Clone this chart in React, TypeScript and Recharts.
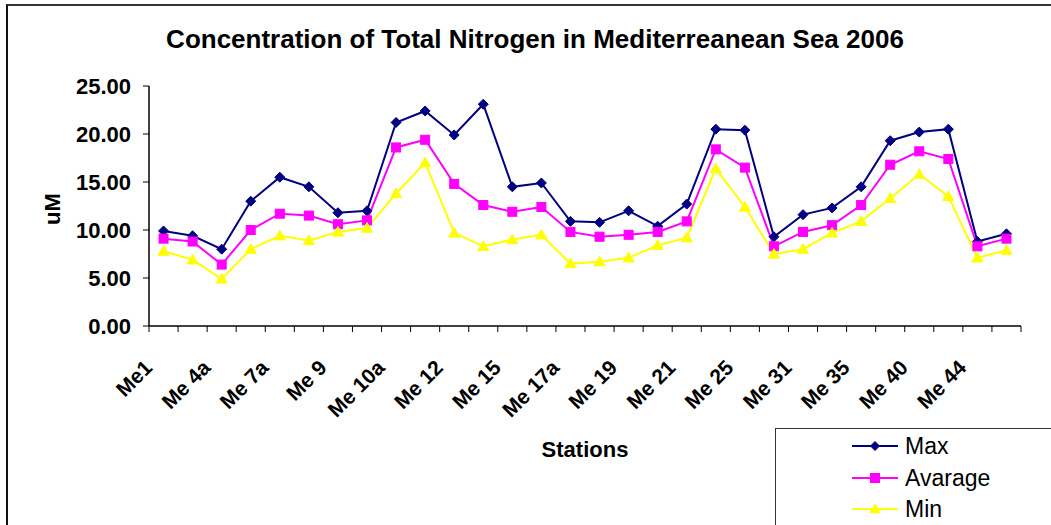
import { LineChart, Line, XAxis, YAxis, Legend } from 'recharts';

const stations = [
  'Me1', 'Me 3', 'Me 4a', 'Me 6', 'Me 7a', 'Me 8', 'Me 9', 'Me 10', 'Me 10a', 'Me 11',
  'Me 12', 'Me 13', 'Me 15', 'Me 16', 'Me 17a', 'Me 18', 'Me 19', 'Me 20', 'Me 21', 'Me 23',
  'Me 25', 'Me 28', 'Me 31', 'Me 33', 'Me 35', 'Me 37', 'Me 40', 'Me 42', 'Me 44', 'Me 45',
];
const maxValues = [
  9.9, 9.4, 8.0, 13.0, 15.5, 14.5, 11.8, 12.0, 21.2, 22.4,
  19.9, 23.1, 14.5, 14.9, 10.9, 10.8, 12.0, 10.4, 12.7, 20.5,
  20.4, 9.3, 11.6, 12.3, 14.5, 19.3, 20.2, 20.5, 8.8, 9.6,
];
const avgValues = [
  9.1, 8.8, 6.4, 10.0, 11.7, 11.5, 10.6, 11.0, 18.6, 19.4,
  14.8, 12.6, 11.9, 12.4, 9.8, 9.3, 9.5, 9.8, 10.9, 18.4,
  16.5, 8.3, 9.8, 10.5, 12.6, 16.8, 18.2, 17.4, 8.3, 9.1,
];
const minValues = [
  7.8, 6.9, 4.9, 8.0, 9.4, 8.9, 9.8, 10.2, 13.8, 17.0,
  9.7, 8.3, 9.0, 9.5, 6.5, 6.7, 7.1, 8.4, 9.2, 16.4,
  12.4, 7.5, 8.0, 9.7, 10.9, 13.3, 15.8, 13.5, 7.1, 7.9,
];
const yTicks = [0, 5, 10, 15, 20, 25];
const seriesOrder = ['max', 'avg', 'min'];

const data = stations.map((station, i) => ({
  station,
  max: maxValues[i],
  avg: avgValues[i],
  min: minValues[i],
}));

const FONT = '"Liberation Sans", Arial, sans-serif';
const NAVY = '#000080';
const MAGENTA = '#FF00FF';
const YELLOW = '#FFFF00';

const W = 1051;
const H = 525;
const margin = { top: 86, right: 30, bottom: 0, left: 0 };
const Y_AXIS_W = 149;
const BAND = (W - margin.left - margin.right - Y_AXIS_W) / stations.length;

function diamond(cx: number, cy: number, r: number, color: string, key?: string) {
  return (
    <path key={key} d={`M${cx},${cy - r}L${cx + r},${cy}L${cx},${cy + r}L${cx - r},${cy}Z`} fill={color} stroke={color} />
  );
}
function square(cx: number, cy: number, r: number, color: string, key?: string) {
  return <rect key={key} x={cx - r} y={cy - r} width={r * 2} height={r * 2} fill={color} stroke={color} />;
}
function triangle(cx: number, cy: number, r: number, color: string, key?: string) {
  return (
    <path key={key} d={`M${cx},${cy - r}L${cx + r},${cy + r * 0.75}L${cx - r},${cy + r * 0.75}Z`} fill={color} stroke={color} />
  );
}

const shapes: Record<string, (cx: number, cy: number, r: number, c: string, k?: string) => JSX.Element> = {
  max: diamond,
  avg: square,
  min: triangle,
};

function StationTick(props: any) {
  const { x, y, payload } = props;
  const i = payload.index;
  const half = BAND / 2;
  const ax = x - 10;
  const ay = y + 43;
  return (
    <g>
      <line x1={x - half} x2={x - half} y1={y} y2={y + 6} stroke="#000" />
      {i === stations.length - 1 && <line x1={x + half} x2={x + half} y1={y} y2={y + 6} stroke="#000" />}
      {i % 2 === 0 && (
        <text
          x={ax}
          y={ay}
          transform={`rotate(-45 ${ax} ${ay})`}
          textAnchor="end"
          fontFamily={FONT}
          fontWeight="bold"
          fontSize={21}
          fill="#000"
        >
          {payload.value}
        </text>
      )}
    </g>
  );
}

function LegendBox(props: any) {
  const items = [...(props.payload || [])].sort(
    (a: any, b: any) => seriesOrder.indexOf(a.dataKey) - seriesOrder.indexOf(b.dataKey),
  );
  return (
    <div
      style={{
        width: 300,
        height: 110,
        border: '1.5px solid #333',
        background: '#fff',
        boxSizing: 'border-box',
        position: 'relative',
        fontFamily: FONT,
      }}
    >
      {items.map((item: any, i: number) => (
        <div key={item.dataKey} style={{ position: 'absolute', left: 75, top: 2 + i * 31.5, height: 30, display: 'flex', alignItems: 'center' }}>
          <svg width={48} height={30}>
            <line x1={1} x2={47} y1={15} y2={15} stroke={item.color} strokeWidth={2} />
            {shapes[item.dataKey](24, 15, item.dataKey === 'min' ? 5 : 4.5, item.color)}
          </svg>
          <span style={{ marginLeft: 6, fontSize: 23, color: '#000', lineHeight: '30px' }}>{item.value}</span>
        </div>
      ))}
    </div>
  );
}

function makeDot(key: string, color: string, r: number) {
  return (p: any) => shapes[key](p.cx, p.cy, r, color, `${key}-${p.index}`);
}

export default function App() {
  return (
    <div style={{ position: 'absolute', left: 0, top: 0, width: W, height: H, overflow: 'hidden', background: '#fff', fontFamily: FONT }}>
      <div
        style={{
          position: 'absolute',
          left: 6,
          top: 4,
          width: W + 20,
          height: H + 20,
          borderLeft: '2px solid #111',
          borderTop: '2px solid #333',
        }}
      />
      <div
        style={{
          position: 'absolute',
          left: 0,
          top: 26,
          width: 1070,
          textAlign: 'center',
          fontSize: 26,
          lineHeight: '26px',
          fontWeight: 'bold',
          color: '#000',
        }}
      >
        Concentration of Total Nitrogen in Mediterreanean Sea 2006
      </div>
      <div style={{ position: 'absolute', left: 0, top: 0 }}>
        <LineChart width={W} height={H} data={data} margin={margin}>
          <XAxis
            dataKey="station"
            interval={0}
            height={H - 326}
            padding={{ left: BAND / 2, right: BAND / 2 }}
            tickSize={0}
            tickMargin={0}
            tickLine={false}
            axisLine={{ stroke: '#000', strokeWidth: 1.5 }}
            tick={<StationTick />}
            label={{
              content: ({ viewBox }: any) => (
                <text
                  x={viewBox.x + viewBox.width / 2}
                  y={viewBox.y + 131}
                  textAnchor="middle"
                  fontFamily={FONT}
                  fontWeight="bold"
                  fontSize={22}
                  fill="#000"
                >
                  Stations
                </text>
              ),
            }}
          />
          <YAxis
            width={Y_AXIS_W}
            domain={[0, 25]}
            ticks={yTicks}
            interval={0}
            tickFormatter={(v: number) => v.toFixed(2)}
            tickSize={6}
            tickMargin={12}
            axisLine={{ stroke: '#000', strokeWidth: 1.5 }}
            tickLine={{ stroke: '#000' }}
            tick={{ fill: '#000', fontSize: 22, fontWeight: 'bold', fontFamily: FONT }}
            label={{
              content: ({ viewBox }: any) => {
                const lx = viewBox.x + 52;
                const ly = viewBox.y + viewBox.height / 2 + 3;
                return (
                  <text
                    x={lx}
                    y={ly}
                    transform={`rotate(-90 ${lx} ${ly})`}
                    textAnchor="middle"
                    dominantBaseline="central"
                    fontFamily={FONT}
                    fontWeight="bold"
                    fontSize={22}
                    fill="#000"
                  >
                    uM
                  </text>
                );
              },
            }}
          />
          <Line
            dataKey="max"
            name="Max"
            stroke={NAVY}
            strokeWidth={2}
            dot={makeDot('max', NAVY, 5)}
            isAnimationActive={false}
          />
          <Line
            dataKey="avg"
            name="Avarage"
            stroke={MAGENTA}
            strokeWidth={2}
            dot={makeDot('avg', MAGENTA, 4.5)}
            isAnimationActive={false}
          />
          <Line
            dataKey="min"
            name="Min"
            stroke={YELLOW}
            strokeWidth={2}
            dot={makeDot('min', YELLOW, 5.5)}
            isAnimationActive={false}
          />
          <Legend
            layout="horizontal"
            verticalAlign="middle"
            align="center"
            content={<LegendBox />}
            wrapperStyle={{ left: 775, top: 428, width: 300, height: 110 }}
          />
        </LineChart>
      </div>
    </div>
  );
}
